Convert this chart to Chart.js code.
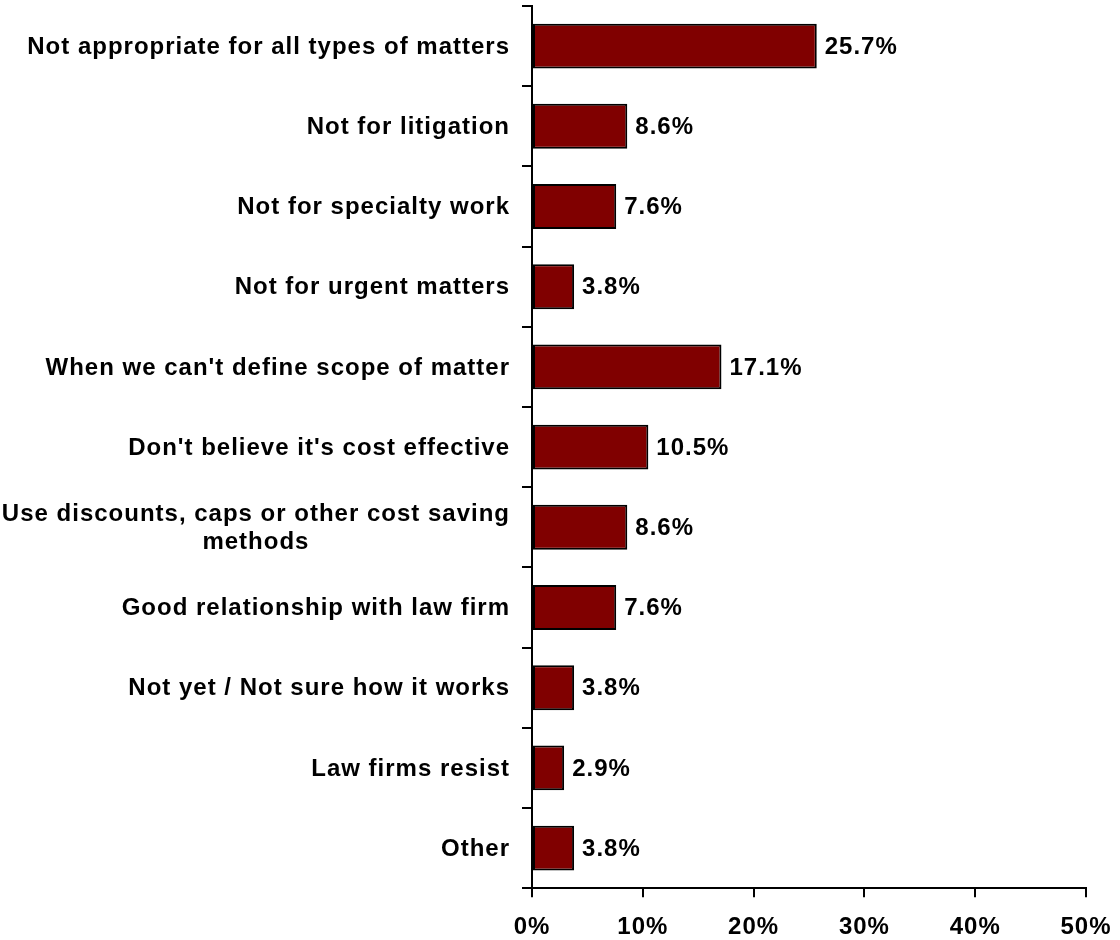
<!DOCTYPE html>
<html>
<head>
<meta charset="utf-8">
<script src="https://cdn.jsdelivr.net/npm/chart.js@4.4.1/dist/chart.umd.min.js"></script>
<style>
    html, body { margin: 0; padding: 0; background: #ffffff; }
    #wrap { width: 1120px; height: 940px; }
</style>
</head>
<body>
<div id="wrap"><canvas id="reasonsChart" width="1120" height="940"></canvas></div>
<script>
var reasonLabels = [
    ['Not appropriate for all types of matters'],
    ['Not for litigation'],
    ['Not for specialty work'],
    ['Not for urgent matters'],
    ["When we can't define scope of matter"],
    ["Don't believe it's cost effective"],
    ['Use discounts, caps or other cost saving', 'methods'],
    ['Good relationship with law firm'],
    ['Not yet / Not sure how it works'],
    ['Law firms resist'],
    ['Other']
];
var reasonShares = [25.7, 8.6, 7.6, 3.8, 17.1, 10.5, 8.6, 7.6, 3.8, 2.9, 3.8];
var axisMax = 50;
var axisStep = 10;

var FONT = '"Liberation Sans", Arial, sans-serif';
var FONT_SIZE = 24;

// slightly loose tracking for every piece of text on the canvas
var tracking = {
    id: 'tracking',
    beforeLayout: function (chart) { chart.ctx.letterSpacing = '1px'; },
    beforeDraw: function (chart) { chart.ctx.letterSpacing = '1px'; }
};

// category names drawn by hand so wrapped lines can be centred on each other
var categoryNames = {
    id: 'categoryNames',
    afterDraw: function (chart) {
        var ctx = chart.ctx;
        var yScale = chart.scales.y;
        var right = chart.chartArea.left - 22;
        var lineH = 28;
        ctx.save();
        ctx.fillStyle = '#000';
        ctx.font = 'bold ' + FONT_SIZE + 'px ' + FONT;
        ctx.textBaseline = 'middle';
        ctx.textAlign = 'left';
        reasonLabels.forEach(function (lines, i) {
            var y = yScale.getPixelForValue(i) + 1;
            var widths = lines.map(function (l) { return ctx.measureText(l).width; });
            var maxW = Math.max.apply(null, widths);
            var top = y - (lines.length - 1) * lineH / 2;
            lines.forEach(function (l, j) {
                ctx.fillText(l, right - maxW / 2 - widths[j] / 2, top + j * lineH);
            });
        });
        ctx.restore();
    }
};

// percentage printed just past the end of each bar
var valueLabels = {
    id: 'valueLabels',
    afterDatasetsDraw: function (chart) {
        var ctx = chart.ctx;
        var meta = chart.getDatasetMeta(0);
        ctx.save();
        ctx.fillStyle = '#000';
        ctx.font = 'bold ' + FONT_SIZE + 'px ' + FONT;
        ctx.textAlign = 'left';
        ctx.textBaseline = 'middle';
        meta.data.forEach(function (bar, i) {
            ctx.fillText(reasonShares[i].toFixed(1) + '%', bar.x + 8, bar.y + 1);
        });
        ctx.restore();
    }
};

new Chart(document.getElementById('reasonsChart'), {
    type: 'bar',
    data: {
        labels: reasonLabels,
        datasets: [{
            data: reasonShares,
            backgroundColor: '#800000',
            borderColor: '#000000',
            borderWidth: 2,
            borderSkipped: false,
            barPercentage: 0.56,
            categoryPercentage: 1
        }]
    },
    options: {
        indexAxis: 'y',
        responsive: false,
        animation: false,
        layout: {
            padding: { left: 522, right: 34, top: 6, bottom: -18 }
        },
        plugins: {
            legend: { display: false },
            tooltip: { enabled: false }
        },
        scales: {
            x: {
                min: 0,
                max: axisMax,
                border: { color: '#000', width: 2 },
                grid: {
                    drawOnChartArea: false,
                    color: '#000',
                    lineWidth: 2,
                    tickLength: 9
                },
                ticks: {
                    stepSize: axisStep,
                    color: '#000',
                    padding: 16,
                    font: { family: FONT, size: FONT_SIZE, weight: 'bold' },
                    callback: function (v) { return v + '%'; }
                },
                afterFit: function (scale) {
                    // the layout padding already leaves room for the end labels
                    scale.paddingLeft = 0;
                    scale.paddingRight = 0;
                }
            },
            y: {
                offset: true,
                border: { color: '#000', width: 2 },
                grid: {
                    offset: true,
                    drawOnChartArea: false,
                    color: '#000',
                    lineWidth: 2,
                    tickLength: 10
                },
                ticks: { display: false }
            }
        }
    },
    plugins: [tracking, categoryNames, valueLabels]
});
</script>
</body>
</html>
